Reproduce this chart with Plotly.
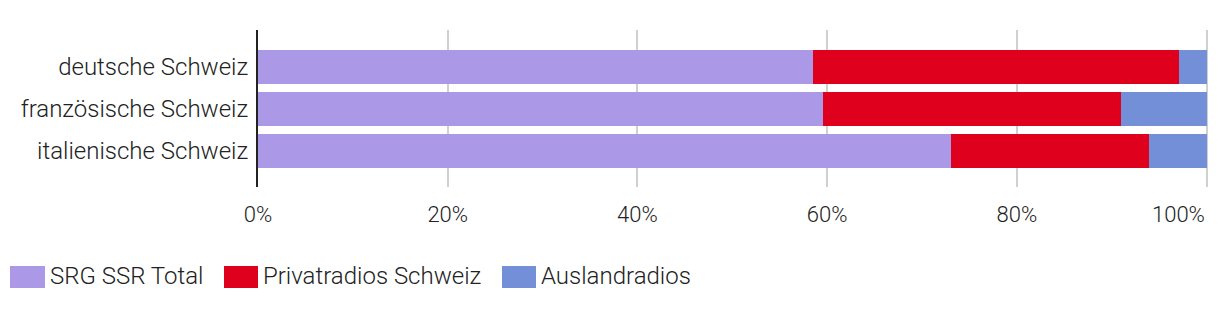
import plotly.graph_objects as go

categories = ["deutsche Schweiz", "französische Schweiz", "italienische Schweiz"]
series_names = ["SRG SSR Total", "Privatradios Schweiz", "Auslandradios"]
srg = [58.5, 59.6, 73.1]
privat = [38.6, 31.4, 20.8]
ausland = [2.9, 9.0, 6.1]
tick_vals = [0, 20, 40, 60, 80, 100]
tick_text = ["0%", "20%", "40%", "60%", "80%", "100%"]

colors = ["#AB99E8", "#DE001C", "#728FD8"]
W, H = 1220, 310
ML, MR, MT, MB = 258, 12, 30, 123
font_family = "Roboto"
txt_color = "#222222"
XMAX = 100.15

fig = go.Figure()
for name, vals, c in zip(series_names, [srg, privat, ausland], colors):
    fig.add_trace(go.Bar(y=categories, x=vals, name=name, orientation="h",
                         marker=dict(color=c, line=dict(width=0)), showlegend=False))

pw = W - ML - MR
ph = H - MT - MB

def px_x(p):
    return (p - ML) / pw

def px_y(p):
    return (H - MB - p) / ph

# custom legend
legend_items = [(10, 45, 48), (224, 258, 261), (502, 536, 539)]
for (x0, x1, tx), name, c in zip(legend_items, series_names, colors):
    fig.add_shape(type="rect", xref="paper", yref="paper",
                  x0=px_x(x0), x1=px_x(x1), y0=px_y(288), y1=px_y(266),
                  fillcolor=c, line=dict(width=0))
    fig.add_annotation(xref="paper", yref="paper", x=px_x(tx), y=px_y(276),
                       text=name, showarrow=False, xanchor="left", yanchor="middle",
                       font=dict(family=font_family, size=24, color=txt_color, weight=300))

# last tick label is right-aligned to the plot edge
shown_text = tick_text[:-1] + [""]
fig.add_annotation(xref="x", yref="paper", x=tick_vals[-1], y=px_y(214),
                   text=tick_text[-1], showarrow=False, xanchor="right", yanchor="middle",
                   font=dict(family=font_family, size=22, color=txt_color, weight=300))

fig.update_layout(
    width=W, height=H, barmode="stack", bargap=0.19,
    margin=dict(l=ML, r=MR, t=MT, b=MB, pad=0),
    plot_bgcolor="white", paper_bgcolor="white",
    font=dict(family=font_family, size=22, color=txt_color, weight=300),
    xaxis=dict(range=[0, XMAX], tickvals=tick_vals, ticktext=shown_text,
               showgrid=True, gridcolor="#D0D0D0", gridwidth=2, zeroline=False,
               showline=False, ticks="", ticklabelstandoff=12,
               tickfont=dict(size=22, family=font_family, color=txt_color, weight=300)),
    yaxis=dict(range=[2.857, -0.881], showgrid=False, zeroline=False,
               showline=True, linecolor="#222222", linewidth=2, ticks="",
               ticklabelstandoff=3,
               tickfont=dict(size=24, family=font_family, color=txt_color, weight=300)),
)
fig.write_html("out.html")
